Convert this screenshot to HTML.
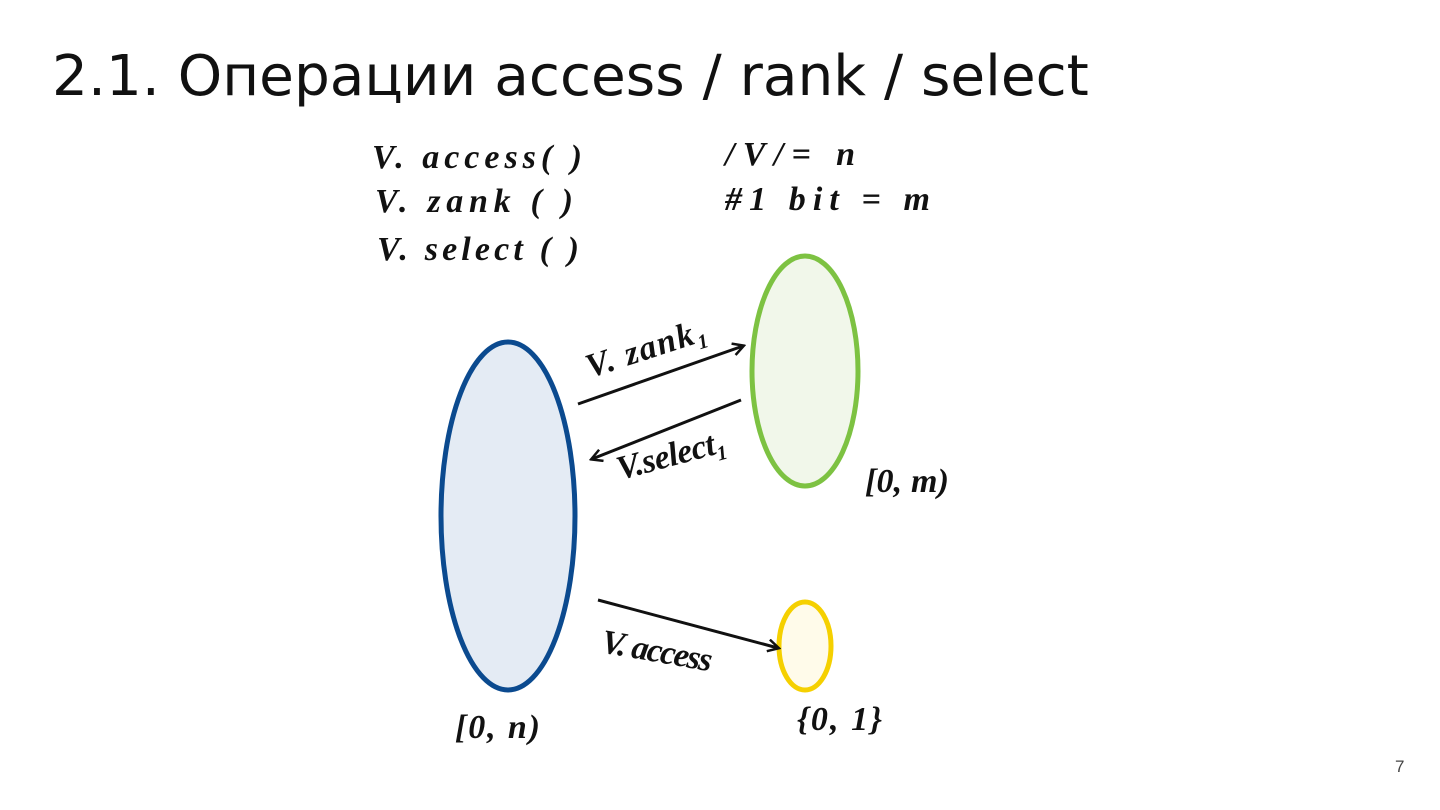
<!DOCTYPE html>
<html><head><meta charset="utf-8"><style>
body{margin:0;width:1440px;height:810px;background:#fff;overflow:hidden;position:relative;font-family:"Liberation Sans",sans-serif}
.t{position:absolute;left:52px;top:44px;font-family:"DejaVu Sans",sans-serif;font-size:56.5px;color:#111;white-space:nowrap}
.n{position:absolute;left:1395px;top:757px;font-size:17px;color:#444}
svg{position:absolute;left:0;top:0}
svg text{font-family:"Liberation Serif",serif;font-style:italic;font-weight:bold;fill:#111}
</style></head><body>
<div class="t">2.1. Операции access / rank / select</div>
<div class="n">7</div>
<svg width="1440" height="810">
<defs><marker id="a" markerWidth="14" markerHeight="14" refX="11" refY="7" orient="auto" markerUnits="userSpaceOnUse"><path d="M1,1 L12,7 L1,13" fill="none" stroke="#111" stroke-width="2.5"/></marker></defs>
<ellipse cx="508" cy="516" rx="67" ry="174" fill="#e4ebf4" stroke="#0b4a8f" stroke-width="5"/>
<ellipse cx="805" cy="371" rx="53" ry="115" fill="#f1f7ea" stroke="#7dc242" stroke-width="5"/>
<ellipse cx="805" cy="646" rx="26" ry="44" fill="#fffbea" stroke="#f5d000" stroke-width="5"/>
<line x1="578" y1="404" x2="743" y2="346" stroke="#111" stroke-width="3" marker-end="url(#a)"/>
<line x1="741" y1="400" x2="592" y2="459" stroke="#111" stroke-width="3" marker-end="url(#a)"/>
<line x1="598" y1="600" x2="778" y2="648" stroke="#111" stroke-width="3" marker-end="url(#a)"/>
<g font-size="34">
<text x="372" y="168" textLength="210">V. access(  )</text>
<text x="375" y="212" textLength="198">V. zank (  )</text>
<text x="377" y="260" textLength="202">V. select (  )</text>
<text x="725" y="165" textLength="130">/V/= n</text>
<text x="725" y="210" textLength="205">#1 bit = m</text>
<text x="590" y="378" transform="rotate(-18 590 378)" textLength="125">V. zank₁</text>
<text x="620" y="480" transform="rotate(-15 620 480)" textLength="112">V.select₁</text>
<text x="600" y="652" transform="rotate(10 600 652)" textLength="112">V. access</text>
<text x="865" y="492" textLength="84">[0, m)</text>
<text x="455" y="738" textLength="85">[0, n)</text>
<text x="797" y="730" textLength="85">{0, 1}</text>
</g>
</svg>
</body></html>
